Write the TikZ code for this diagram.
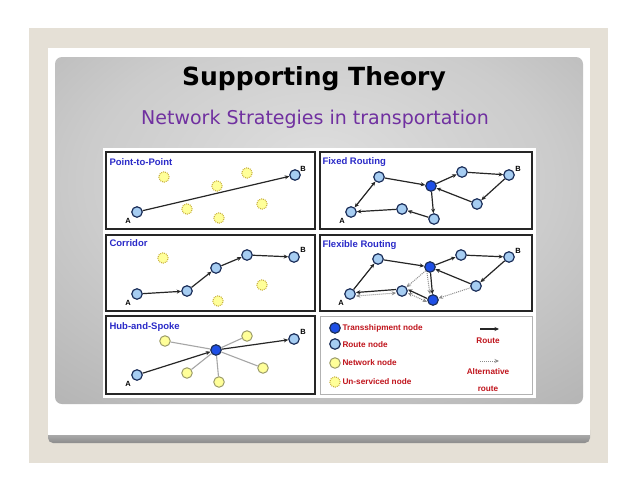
\documentclass[tikz,border=0pt]{standalone}
\usepackage{fontspec}
\setmainfont{DejaVu Sans}
\newfontfamily\arialf{Liberation Sans}
\usetikzlibrary{arrows.meta}
\definecolor{beige}{HTML}{E5E0D6}
\definecolor{routeblue}{HTML}{A6CDF2}
\definecolor{hubblue}{HTML}{1E4FE6}
\definecolor{navy}{HTML}{1C2F5A}
\definecolor{pale}{HTML}{FFFF99}
\definecolor{olive}{HTML}{9C9C6A}
\definecolor{dotgold}{HTML}{C8B040}
\definecolor{ttlblue}{HTML}{2A2AC8}
\definecolor{lgdred}{HTML}{C0141C}
\definecolor{purp}{HTML}{7030A0}
\pgfdeclareradialshading{slideshade}{\pgfpoint{0bp}{10bp}}{color(0bp)=(black!13); color(22bp)=(black!20); color(48bp)=(black!34); color(75bp)=(black!40)}

\begin{document}
\begin{tikzpicture}[x=1pt, y=-1pt,
  route/.style={circle, draw=navy, fill=routeblue, line width=1.2pt, minimum size=10.5pt, inner sep=0pt},
  hub/.style={route, fill=hubblue},
  netw/.style={circle, draw=olive, fill=pale, line width=1pt, minimum size=10.5pt, inner sep=0pt},
  unserv/.style={netw, draw=dotgold, densely dotted},
  ptitle/.style={anchor=base west, text=ttlblue, font=\arialf\bfseries\fontsize{9.5}{10}\selectfont},
  ab/.style={font=\arialf\bfseries\fontsize{7.5}{8}\selectfont},
  lgd/.style={anchor=west, text=lgdred, font=\arialf\bfseries\fontsize{8.2}{9}\selectfont},
  arr/.style={-{Stealth[length=4.5pt,width=4pt]}, line width=1.2pt, black!85},
  alt/.style={-{Stealth[length=4.5pt,width=4pt]}, densely dotted, line width=1pt, black!45},
  spoke/.style={line width=1.1pt, black!35},
  frame/.style={draw=black!85, line width=1.3pt}]
  \useasboundingbox (0,0) rectangle (638,493);
  % slide background
  \fill[white] (0,0) rectangle (638,493);
  \fill[beige] (29,28) rectangle (608,463);
  \shade[top color=black!20, bottom color=black!45, rounded corners=5pt] (48,425) rectangle (590,443);
  \fill[white] (48,48) rectangle (590,435);
  \shade[rounded corners=7pt, shading=slideshade] (55,57) rectangle (583,404);
  \node[anchor=base] (title) at (314,85) {\fontsize{25}{28}\selectfont\bfseries Supporting Theory};
  \node[anchor=base, text=purp] (sub) at (315,124) {\fontsize{19}{22}\selectfont Network Strategies in transportation};

  % panels
  \fill[white] (103,148) rectangle (536,398);
  \draw[frame] (106,152) rectangle (315,229);
  \draw[frame] (106,235) rectangle (315,311);
  \draw[frame] (106,316) rectangle (315,394);
  \draw[frame] (320,152) rectangle (532,229);
  \draw[frame] (320,235) rectangle (532,311);
  \draw[draw=black!30, line width=1pt] (320,316) rectangle (532,394);

  % point-to-point
  \node[ptitle] (t1) at (106,165) {Point-to-Point};
  \node[unserv] (u1) at (164,177) {}; \node[unserv] (u2) at (217,186) {};
  \node[unserv] (u3) at (247,173) {}; \node[unserv] (u4) at (187,209) {};
  \node[unserv] (u5) at (219,218) {}; \node[unserv] (u6) at (262,204) {};
  \node[route] (pA) at (137,212) {}; \node[route] (pB) at (295,175) {};
  \node[ab] (pa) at (128,221) {A}; \node[ab] (pb) at (303,169) {B};
  \draw[arr] (pA) -- (pB);

  % fixed routing
  \node[ptitle] (t2) at (319,164) {Fixed Routing};
  \node[route] (fA) at (351,212) {}; \node[route] (f1) at (379,177) {};
  \node[hub] (fH) at (431,186) {};   \node[route] (f2) at (462,172) {};
  \node[route] (fB) at (509,175) {}; \node[route] (f3) at (477,204) {};
  \node[route] (f4) at (434,219) {}; \node[route] (f5) at (402,209) {};
  \node[ab] (fa) at (342,221) {A}; \node[ab] (fb) at (518,169) {B};
  \draw[arr, {Stealth[length=4.5pt,width=4pt]}-{Stealth[length=4.5pt,width=4pt]}] (fA) -- (f1);
  \draw[arr] (f1) -- (fH);
  \draw[arr] (fH) -- (f2);
  \draw[arr] (f2) -- (fB);
  \draw[arr] (fB) -- (f3);
  \draw[arr] (f3) -- (fH);
  \draw[arr] (fH) -- (f4);
  \draw[arr] (f4) -- (f5);
  \draw[arr] (f5) -- (fA);

  % corridor
  \node[ptitle] (t3) at (106,246) {Corridor};
  \node[unserv] (v1) at (163,258) {}; \node[unserv] (v2) at (262,285) {};
  \node[unserv] (v3) at (218,301) {};
  \node[route] (cA) at (137,294) {}; \node[route] (c1) at (187,291) {};
  \node[route] (c2) at (216,268) {}; \node[route] (c3) at (247,255) {};
  \node[route] (cB) at (294,257) {};
  \node[ab] (ca) at (128,303) {A}; \node[ab] (cb) at (303,250) {B};
  \draw[arr] (cA) -- (c1);
  \draw[arr] (c1) -- (c2);
  \draw[arr] (c2) -- (c3);
  \draw[arr] (c3) -- (cB);

  % flexible routing
  \node[ptitle] (t4) at (319,247) {Flexible Routing};
  \node[route] (xA) at (350,294) {}; \node[route] (x1) at (378,259) {};
  \node[hub] (xH) at (430,267) {};   \node[route] (x2) at (461,255) {};
  \node[route] (xB) at (509,257) {}; \node[route] (x3) at (476,286) {};
  \node[hub] (x4) at (433,300) {};   \node[route] (x5) at (402,291) {};
  \node[ab] (xa) at (341,303) {A}; \node[ab] (xb) at (518,251) {B};
  \draw[arr] (xA) -- (x1);
  \draw[arr] (x1) -- (xH);
  \draw[arr] (xH) -- (x2);
  \draw[arr] (x2) -- (xB);
  \draw[arr] (xB) -- (x3);
  \draw[arr] (x3) -- (xH);
  \draw[arr] (xH) -- (x4);
  \draw[arr] ([yshift=1.5pt]x4.west) -- ([yshift=1.5pt]x5.east);
  \draw[arr] ([yshift=1.5pt]x5.west) -- ([yshift=1.5pt]xA.east);
  \draw[alt] (xH) -- (x5);
  \draw[alt] (x3) -- (x4);
  \draw[alt] ([xshift=-3pt]xH.south) -- ([xshift=-3pt]x4.north);
  \draw[alt, <->, >={Stealth[length=4.5pt,width=4pt]}] ([yshift=-2pt]x5.east) -- ([yshift=-2pt]x4.west);
  \draw[alt, <->, >={Stealth[length=4.5pt,width=4pt]}] ([yshift=-2pt]xA.east) -- ([yshift=-2pt]x5.west);

  % hub-and-spoke
  \node[ptitle] (t5) at (106,329) {Hub-and-Spoke};
  \node[netw] (k1) at (165,341) {}; \node[netw] (k2) at (247,336) {};
  \node[netw] (k3) at (187,373) {}; \node[netw] (k4) at (219,382) {};
  \node[netw] (k5) at (263,368) {};
  \node[route] (hA) at (137,375) {}; \node[hub] (hH) at (216,350) {};
  \node[route] (hB) at (294,339) {};
  \node[ab] (ha) at (128,384) {A}; \node[ab] (hb) at (303,332) {B};
  \draw[spoke] (hH) -- (k1);
  \draw[spoke] (hH) -- (k2);
  \draw[spoke] (hH) -- (k3);
  \draw[spoke] (hH) -- (k4);
  \draw[spoke] (hH) -- (k5);
  \draw[arr] (hA) -- (hH);
  \draw[arr] (hH) -- (hB);

  % legend
  \node[hub] (lh) at (335,328) {};    \node[lgd] (lht) at (339,328) {Transshipment node};
  \node[route] (lr) at (335,344) {};  \node[lgd] (lrt) at (339,345) {Route node};
  \node[netw] (ln) at (335,363) {};   \node[lgd] (lnt) at (339,363) {Network node};
  \node[unserv] (lu) at (335,382) {}; \node[lgd] (lut) at (339,382) {Un-serviced node};
  \coordinate (r1) at (480,329); \coordinate (r2) at (499,329);
  \draw[arr] (r1) -- (r2);
  \node[lgd, anchor=center] (rt) at (488,341) {Route};
  \coordinate (a1) at (480,361); \coordinate (a2) at (499,361);
  \draw[alt] (a1) -- (a2);
  \node[lgd, anchor=center] (at1) at (488,372) {Alternative};
  \node[lgd, anchor=center] (at2) at (488,389) {route};
\end{tikzpicture}
\end{document}
